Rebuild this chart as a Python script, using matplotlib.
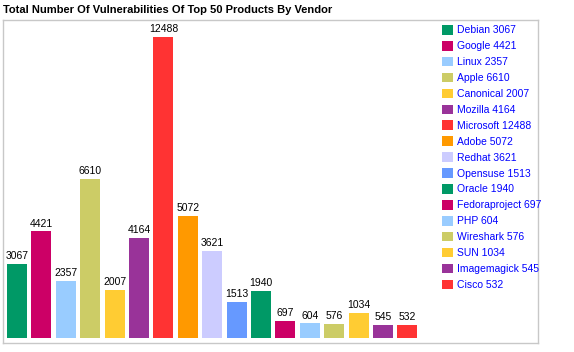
import numpy as np
import matplotlib.pyplot as plt
from matplotlib.patches import Patch

plt.rcParams['font.family'] = ['Liberation Sans', 'DejaVu Sans']

# dados
vendors = ["Debian", "Google", "Linux", "Apple", "Canonical", "Mozilla", "Microsoft",
           "Adobe", "Redhat", "Opensuse", "Oracle", "Fedoraproject", "PHP",
           "Wireshark", "SUN", "Imagemagick", "Cisco"]
counts = [3067, 4421, 2357, 6610, 2007, 4164, 12488, 5072, 3621, 1513, 1940,
          697, 604, 576, 1034, 545, 532]
palette = ["#009966", "#cc0066", "#99ccff", "#cccc66", "#ffcc33", "#993399",
           "#ff3333", "#ff9900", "#ccccff", "#6699ff"]
colors = [palette[i % len(palette)] for i in range(len(vendors))]

fig = plt.figure(figsize=(5.74, 3.52), dpi=100)
ax = fig.add_axes([3 / 574, 9 / 352, 535 / 574, 323 / 352])

x = np.arange(len(vendors))
ax.bar(x, counts, width=0.82, color=colors)
for xi, v in zip(x, counts):
    ax.annotate(str(v), (xi, v), xytext=(0, 2), textcoords="offset points",
                ha="center", va="bottom", fontsize=7.5, color="black")

ax.set_xlim(-0.574, 21.35)
ax.set_ylim(-208, 13195)
ax.set_xticks([])
ax.set_yticks([])
for s in ax.spines.values():
    s.set_color("#c8c8c8")
    s.set_linewidth(1)

# legenda
handles = [Patch(facecolor=c, edgecolor="none") for c in colors]
labels = [f"{n} {v}" for n, v in zip(vendors, counts)]
leg = fig.legend(handles, labels, loc="upper left", bbox_to_anchor=(442 / 574, 1 - 25 / 352),
                 frameon=False, fontsize=7.5, handlelength=1.05, handleheight=1.05,
                 handletextpad=0.4, labelspacing=0.53, borderpad=0, borderaxespad=0)
for t in leg.get_texts():
    t.set_color("#0000ff")

fig.text(3 / 574, 1 - 10 / 352, "Total Number Of Vulnerabilities Of Top 50 Products By Vendor",
         ha="left", va="center", fontsize=8, fontweight="bold")

fig.savefig("out.png", dpi=100)
